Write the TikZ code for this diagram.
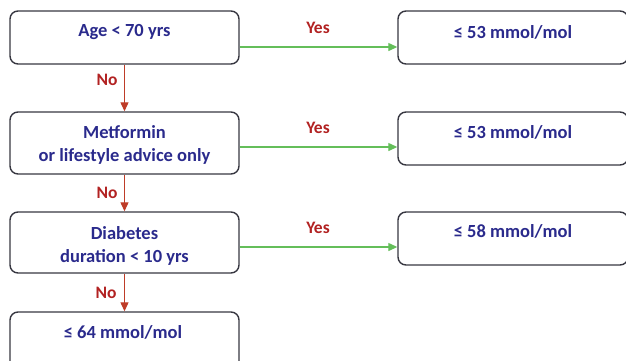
\documentclass[tikz,border=0pt]{standalone}
\usepackage{fontspec}
\setmainfont{Carlito}
\usetikzlibrary{arrows.meta,calc}
\definecolor{txtblue}{RGB}{42,42,140}
\definecolor{lblred}{RGB}{178,34,34}
\definecolor{arrgreen}{RGB}{100,190,90}
\definecolor{arrred}{RGB}{190,60,40}
\definecolor{boxgray}{RGB}{55,55,65}
\tikzset{
  box/.style={draw=boxgray, line width=1.4pt, rounded corners=8pt, inner sep=0pt},
  txt/.style={text=txtblue, font=\fontsize{18.5}{22}\selectfont\bfseries, inner sep=0pt},
  lbl/.style={text=lblred, font=\fontsize{17.5}{21}\selectfont\bfseries, inner sep=0pt},
  yesarrow/.style={draw=arrgreen, line width=1.2pt, -{Triangle[length=9pt,width=8pt]}},
  noarrow/.style={draw=arrred, line width=1.2pt, -{Triangle[length=9pt,width=8pt]}}
}
\begin{document}
\begin{tikzpicture}[x=1pt,y=-1pt]
\useasboundingbox (0,0) rectangle (626,360);
\clip (0,0) rectangle (626,360);
% left boxes
\node[box, minimum width=229pt, minimum height=53pt] (b1) at (124.5,37.5) {};
\node[box, minimum width=229pt, minimum height=62pt] (b2) at (124.5,143) {};
\node[box, minimum width=229pt, minimum height=61pt] (b3) at (124.5,242.5) {};
\node[box, minimum width=229pt, minimum height=62pt] (b4) at (124.5,343) {};
% right boxes
\node[box, minimum width=230pt, minimum height=53pt] (r1) at (513,37.5) {};
\node[box, minimum width=230pt, minimum height=53pt] (r2) at (513,138.5) {};
\node[box, minimum width=230pt, minimum height=53pt] (r3) at (513,238.5) {};
% texts
\node[txt] (t1) at (124.5,32) {Age < 70 yrs};
\node[txt] (t2a) at (124.5,132) {Metformin};
\node[txt] (t2b) at (124.5,156) {or lifestyle advice only};
\node[txt] (t3a) at (124.5,233) {Diabetes};
\node[txt] (t3b) at (124.5,257) {duration < 10 yrs};
\node[txt] (t4) at (123,332) {≤ 64 mmol/mol};
\node[txt] (tr1) at (513,32) {≤ 53 mmol/mol};
\node[txt] (tr2) at (513,132) {≤ 53 mmol/mol};
\node[txt] (tr3) at (513,231) {≤ 58 mmol/mol};
% arrows
\coordinate (a1) at ($(b1.east)+(0,9.5)$);
\coordinate (a2) at ($(b2.east)+(0,4)$);
\coordinate (a3) at ($(b3.east)+(0,4.5)$);
\draw[yesarrow] (a1) -- (a1 -| r1.west);
\draw[yesarrow] (a2) -- (a2 -| r2.west);
\draw[yesarrow] (a3) -- (a3 -| r3.west);
\draw[noarrow] (b1.south) -- (b2.north);
\draw[noarrow] (b2.south) -- (b3.north);
\draw[noarrow] (b3.south) -- (b4.north);
% labels
\node[lbl] (y1) at (318,28) {Yes};
\node[lbl] (y2) at (318,128) {Yes};
\node[lbl] (y3) at (318,228) {Yes};
\node[lbl] (n1) at (107,80) {No};
\node[lbl] (n2) at (107,193) {No};
\node[lbl] (n3) at (106,293) {No};
\end{tikzpicture}
\end{document}
